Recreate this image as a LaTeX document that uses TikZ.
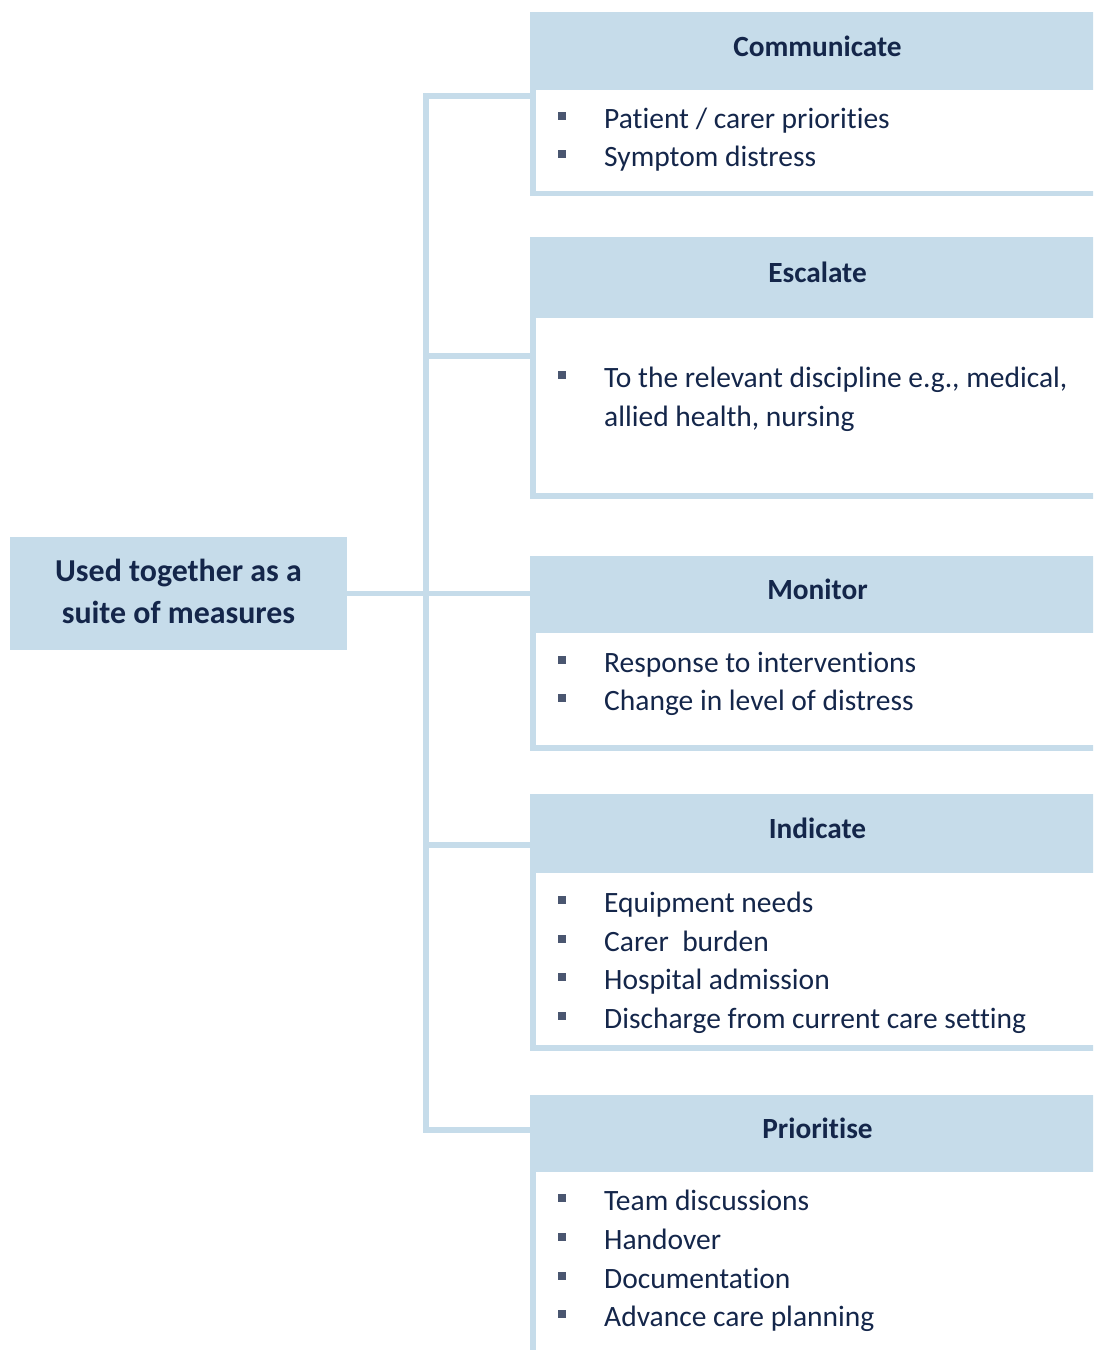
\documentclass[tikz,border=0pt]{standalone}
\usepackage{fontspec}
\setmainfont{Carlito}[Ligatures=NoCommon]
\usepackage{tikz}

\definecolor{paleblue}{HTML}{C6DCEA}
\definecolor{inkblue}{HTML}{14264A}
\definecolor{bulletgrey}{HTML}{4A5670}

\tikzset{
  hub/.style={fill=paleblue, minimum width=337pt, minimum height=113pt, inner sep=0pt,
    text=inkblue, align=center, font=\fontsize{31.9}{42}\selectfont\bfseries},
  head/.style={fill=paleblue, minimum width=575pt, inner sep=0pt, text height=19pt, text depth=9pt,
    text=inkblue, font=\fontsize{29.3}{36}\selectfont\bfseries},
  item/.style={anchor=base west, inner sep=0pt, text=inkblue, font=\fontsize{29.5}{38.7}\selectfont},
  link/.style={draw=paleblue, line width=5.5pt, line join=miter},
  frame/.style={draw=paleblue, line width=5.5pt, line join=miter},
  bullet/.style={fill=bulletgrey},
}

\begin{document}
\begin{tikzpicture}[x=1pt,y=-1pt]
	\useasboundingbox (0,0) rectangle (1093,1350);
	\clip (0,0) rectangle (1093,1350);

	% left box
	\fill[paleblue] (10,537) rectangle (347,650);
	\node[hub, fill=none] (suite) at (178.5,591.5) {Used together as a\\suite of measures};

	% headers
	\node[head, minimum height=78pt] (com) at (817.5,51) {Communicate};
	\node[head, minimum height=81pt] (esc) at (817.5,277.5) {Escalate};
	\node[head, minimum height=77pt] (mon) at (817.5,594.5) {Monitor};
	\node[head, minimum height=79pt] (ind) at (817.5,833.5) {Indicate};
	\node[head, minimum height=77pt] (pri) at (817.5,1133.5) {Prioritise};

	% bodies
	\draw[frame] ([xshift=3pt]com.south west) |- (1110,193.5);
	\draw[frame] ([xshift=3pt]esc.south west) |- (1110,496);
	\draw[frame] ([xshift=3pt]mon.south west) |- (1110,748);
	\draw[frame] ([xshift=3pt]ind.south west) |- (1110,1048);
	\draw[frame] ([xshift=3pt]pri.south west) -- ++(0,200);

	% trunk
	\coordinate (t1) at (426,96);
	\coordinate (t2) at (426,356);
	\coordinate (t4) at (426,845);
	\coordinate (t5) at (426,1130);
	\draw[link] (t1 -| com.west) -- (t1) -- (t5) -- (t5 -| pri.west);
	\draw[link] (t2) -- (t2 -| esc.west);
	\draw[link] (t4) -- (t4 -| ind.west);
	\draw[link] ([yshift=-2pt]suite.east) -- ([yshift=-2pt]suite.east -| mon.west);

	% items
	\foreach \y/\txt [count=\i] in {128/{Patient / carer priorities}, 166/{Symptom distress}}{
		\fill[bullet] (558,\y-16) rectangle (566,\y-8);
		\node[item] (com\i) at (604,\y) {\txt};
	}
	\fill[bullet] (558,371) rectangle (566,379);
	\node[item] (esc1) at (604,387) {To the relevant discipline e.g., medical,};
	\node[item] (esc2) at (604,426) {allied health, nursing};
	\foreach \y/\txt [count=\i] in {672/{Response to interventions}, 710/{Change in level of distress}}{
		\fill[bullet] (558,\y-16) rectangle (566,\y-8);
		\node[item] (mon\i) at (604,\y) {\txt};
	}
	\foreach \y/\txt [count=\i] in {912/{Equipment needs}, 951/{Carer\ \ burden},
		989/{Hospital admission}, 1028/{Discharge from current care setting}}{
		\fill[bullet] (558,\y-16) rectangle (566,\y-8);
		\node[item] (ind\i) at (604,\y) {\txt};
	}
	\foreach \y/\txt [count=\i] in {1210/{Team discussions}, 1249/{Handover},
		1288/{Documentation}, 1326/{Advance care planning}}{
		\fill[bullet] (558,\y-16) rectangle (566,\y-8);
		\node[item] (pri\i) at (604,\y) {\txt};
	}
\end{tikzpicture}
\end{document}
